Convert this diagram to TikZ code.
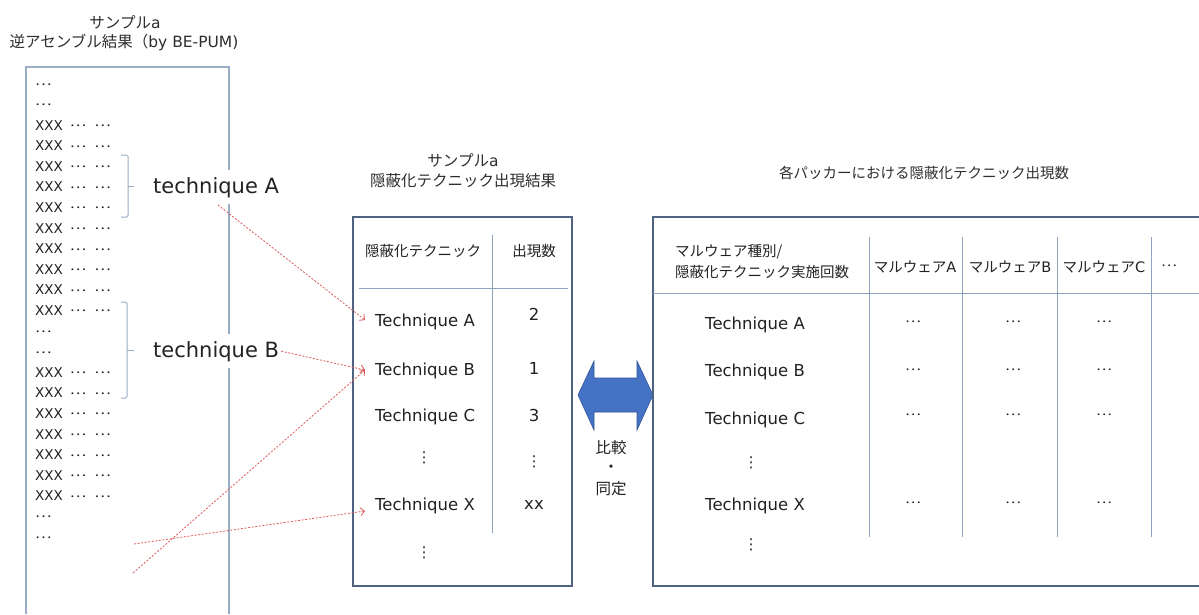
\documentclass[tikz,border=0pt]{standalone}
\usepackage{fontspec}
\setmainfont{DejaVu Sans}
\newfontfamily\cjk{Noto Sans CJK JP}
\usetikzlibrary{arrows.meta}
\newcommand\J[1]{{\cjk #1}}
\newcommand\mdots{\raisebox{3.6pt}{\scalebox{1.15}[1]{\J{…}}}}
\newcommand\rowX{XXX\hspace{7pt}\mdots\hspace{8pt}\mdots}
\newcommand\rowD{\mdots}
\definecolor{ink}{HTML}{222222}
\definecolor{ttl}{HTML}{2E2E2E}
\definecolor{lbox}{HTML}{9AADC6}
\definecolor{bbox}{HTML}{4F6281}
\definecolor{tline}{HTML}{8FA2BE}
\definecolor{redln}{HTML}{E05A5A}
\definecolor{afill}{HTML}{4472C4}
\definecolor{aedge}{HTML}{2F5597}
\tikzset{
  fs/.style={font=\fontsize{#1}{#1}\selectfont},
  txt/.style={text=ink, inner sep=0pt},
  rowtxt/.style={txt, fs=13.5, anchor=base west},
  title/.style={txt, text=ttl, fs=15.5},
  tech/.style={txt, fs=16.5, anchor=base west},
  num/.style={txt, fs=16.5, anchor=base},
  jhead/.style={txt, fs=14.5},
  vdots/.style={txt, fs=15},
  cell/.style={txt, fs=13},
  bigtech/.style={txt, fs=21, anchor=base west, fill=white, inner xsep=2pt, inner ysep=7pt},
  leftline/.style={draw=lbox, line width=1.1pt},
  brk/.style={draw=lbox, line width=1pt, rounded corners=1.5pt},
  boxline/.style={draw=bbox, line width=1.6pt},
  tabline/.style={draw=tline, line width=0.9pt},
  redarrow/.style={draw=redln, line width=0.8pt, dash pattern=on 2pt off 1.6pt, -{Straight Barb[length=4pt,width=8pt]}},
  dblarrow/.style={fill=afill, draw=aedge, line width=0.6pt, line join=miter}
}
\begin{document}
\begin{tikzpicture}[x=1pt,y=-1pt]
\useasboundingbox (0,0) rectangle (1199,614);
\fill[white] (0,0) rectangle (1199,614);

% ---------- left: disassembly listing ----------
\node[title] (lt1) at (125,22) {\J{サンプル}a};
\node[title] (lt2) at (124,42) {\J{逆アセンブル結果（}by BE-PUM)};
\draw[leftline] (26,614) -- (26,67) -- (229,67) -- (229,614);

\foreach \i/\c in {1/\rowD,2/\rowD,3/\rowX,4/\rowX,5/\rowX,6/\rowX,7/\rowX,8/\rowX,9/\rowX,10/\rowX,11/\rowX,12/\rowX,13/\rowD,14/\rowD,15/\rowX,16/\rowX,17/\rowX,18/\rowX,19/\rowX,20/\rowX,21/\rowX,22/\rowD,23/\rowD}
  \node[rowtxt] (r\i) at (35,{88.9+(\i-1)*20.6}) {\c};

\draw[brk] (121,155) -- (128,155) -- (128,217) -- (121,217);
\draw[brk] (128,186) -- (134,186);
\draw[brk] (121,302) -- (127,302) -- (127,398) -- (121,398);
\draw[brk] (127,350) -- (134,350);

\node[bigtech] (tA) at (151,193) {technique A};
\node[bigtech] (tB) at (151,357) {technique B};

% ---------- middle: result table ----------
\node[title] (mt1) at (463,160) {\J{サンプル}a};
\node[title] (mt2) at (463,181) {\J{隠蔽化テクニック出現結果}};
\draw[boxline] (353,217) rectangle (572,586);
\draw[tabline] (492,235) -- (492,533);
\draw[tabline] (359,288) -- (568,288);
\node[jhead] (mh1) at (423,251) {\J{隠蔽化テクニック}};
\node[jhead] (mh2) at (534,251) {\J{出現数}};
\node[tech] (mA) at (375,326) {Technique A};
\node[tech] (mB) at (375,375) {Technique B};
\node[tech] (mC) at (375,421) {Technique C};
\node[tech] (mX) at (375,510) {Technique X};
\node[num] (nA) at (534,320) {2};
\node[num] (nB) at (534,374) {1};
\node[num] (nC) at (534,421) {3};
\node[num] (nX) at (534,509) {xx};
\node[vdots] (md1) at (424,458) {⋮};
\node[vdots] (md2) at (534,462) {⋮};
\node[vdots] (md3) at (424,553) {⋮};

% ---------- double arrow ----------
\path[dblarrow] (578,395) -- (594,361) -- (594,378) -- (637,378) -- (637,361)
  -- (653,395) -- (637,430) -- (637,412) -- (594,412) -- (594,430) -- cycle;
\node[jhead, fs=15.5] (cmp1) at (611,448) {\J{比較}};
\node[jhead, fs=15.5] (cmp2) at (611,469) {\J{・}};
\node[jhead, fs=15.5] (cmp3) at (611,489) {\J{同定}};

% ---------- right: packer table ----------
\node[title, fs=14.5] (rt) at (924,173) {\J{各パッカーにおける隠蔽化テクニック出現数}};
\draw[boxline] (1199,217) -- (653,217) -- (653,586) -- (1199,586);
\draw[tabline] (653,293) -- (1199,293);
\foreach \x in {869,962,1057,1151}
  \draw[tabline] (\x,237) -- (\x,537);
\node[jhead, anchor=west] (rh1) at (675,252) {\J{マルウェア種別/}};
\node[jhead, anchor=west] (rh2) at (675,272) {\J{隠蔽化テクニック実施回数}};
\node[jhead] (ca) at (915,267) {\J{マルウェア}A};
\node[jhead] (cb) at (1010,267) {\J{マルウェア}B};
\node[jhead] (cc) at (1104,267) {\J{マルウェア}C};
\node[cell] (cd) at (1169,267) {\mdots};
\node[tech] (pA) at (705,329) {Technique A};
\node[tech] (pB) at (705,376) {Technique B};
\node[tech] (pC) at (705,424) {Technique C};
\node[tech] (pX) at (705,510) {Technique X};
\node[vdots] (pd1) at (751,463) {⋮};
\node[vdots] (pd2) at (751,545) {⋮};
\foreach \y [count=\r] in {323,371,416,504}{
  \node[cell] (c1\r) at (913,\y) {\mdots};
  \node[cell] (c2\r) at (1013,\y) {\mdots};
  \node[cell] (c3\r) at (1104,\y) {\mdots};
}

% ---------- red dashed connectors ----------
\coordinate (sA) at (218,205);
\coordinate (eA) at (365,320);
\coordinate (eB) at (365,370);
\coordinate (s3) at (133,573);
\coordinate (s4) at (134,544);
\coordinate (eX) at (365,511);
\draw[redarrow] (sA) -- (eA);
\draw[redarrow] (tB.east) -- (eB);
\draw[redarrow] (s3) -- (eB);
\draw[redarrow] (s4) -- (eX);
\end{tikzpicture}
\end{document}
